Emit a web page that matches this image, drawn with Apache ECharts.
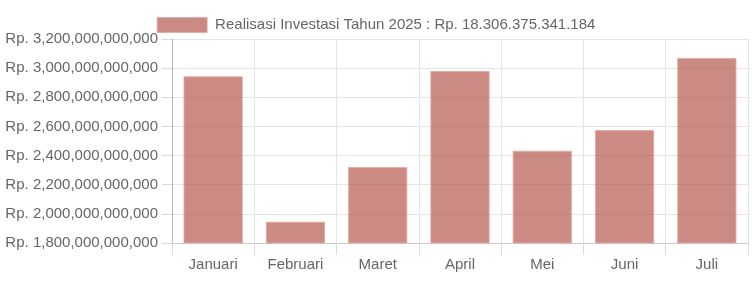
<!DOCTYPE html>
<html>
<head>
<meta charset="utf-8">
<script src="https://cdn.jsdelivr.net/npm/echarts@6/dist/echarts.min.js"></script>
<style>html,body{margin:0;padding:0;background:#fff;}#c{width:752px;height:281px;}</style>
</head>
<body>
<div id="c"></div>
<script>
const categories = ['Januari','Februari','Maret','April','Mei','Juni','Juli'];
const values = [2944000000000, 1946000000000, 2322000000000, 2980000000000, 2433000000000, 2575000000000, 3070000000000];
const seriesName = 'Realisasi Investasi Tahun 2025 : Rp. 18.306.375.341.184';
const yMin = 1800000000000;
const yMax = 3200000000000;
const yStep = 200000000000;

const chart = echarts.init(document.getElementById('c'), null, {renderer: 'canvas'});
const font = 'Liberation Sans, Arial, Helvetica, sans-serif';
chart.setOption({
  animation: false,
  legend: {
    top: 12,
    left: 'center',
    itemWidth: 50,
    itemHeight: 15,
    itemStyle: {borderColor: 'rgba(225,170,165,0.9)', borderWidth: 1},
    textStyle: {fontFamily: font, fontSize: 15, color: '#666', padding: [0,0,0,3]},
    data: [{name: seriesName, icon: 'rect'}]
  },
  grid: {left: 172, right: 4, top: 39, bottom: 38, containLabel: false},
  xAxis: {
    type: 'category',
    data: categories,
    boundaryGap: true,
    axisLine: {show: true, lineStyle: {color: '#c8c8c8', width: 1}},
    axisTick: {show: true, length: 12, lineStyle: {color: '#d9d9d9'}},
    axisLabel: {fontFamily: font, fontSize: 15, color: '#666', margin: 14},
    splitLine: {show: true, lineStyle: {color: '#e5e5e5', width: 1}}
  },
  yAxis: {
    type: 'value',
    min: yMin,
    max: yMax,
    interval: yStep,
    axisLine: {show: true, lineStyle: {color: '#b8b8b8', width: 1}},
    axisTick: {show: true, length: 10, lineStyle: {color: '#d9d9d9'}},
    axisLabel: {
      fontFamily: font, fontSize: 15, color: '#666', margin: 14,
      formatter: v => 'Rp. ' + Number(v).toLocaleString('en-US')
    },
    splitLine: {show: true, lineStyle: {color: '#e5e5e5', width: 1}}
  },
  series: [{
    name: seriesName,
    type: 'bar',
    data: values,
    barCategoryGap: '28%',
    itemStyle: {color: 'rgba(170,60,50,0.6)', borderColor: 'rgba(225,170,165,0.9)', borderWidth: 1}
  }]
});
</script>
</body>
</html>
